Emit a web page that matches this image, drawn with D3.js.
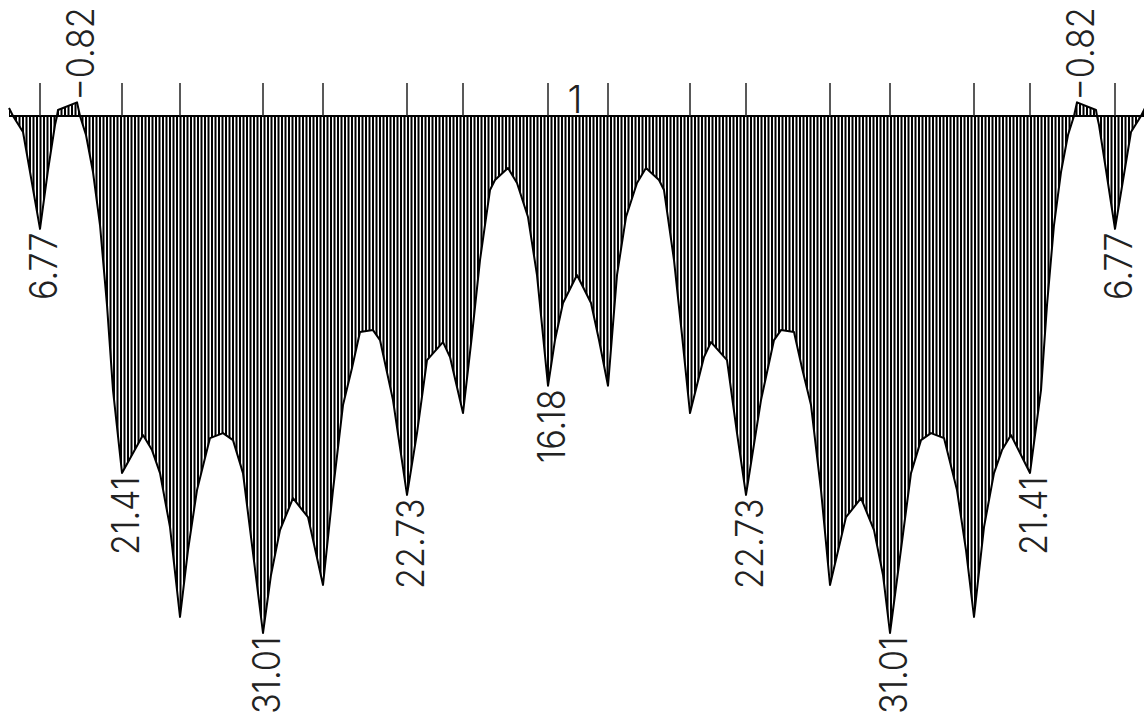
<!DOCTYPE html>
<html><head><meta charset="utf-8">
<script src="https://cdn.jsdelivr.net/npm/d3@7"></script>
<style>html,body{margin:0;padding:0;background:#fff;overflow:hidden}</style>
</head><body><svg id="chart" width="1144" height="724"></svg>
<script>
// distance along the beam (station) and diagram value
const stations = [0,4,14,31,39,46,48,49,68,71,77,84,91,98,104,113,134,143,151,161,171,179,188,201,214,224,234,254,262,271,284,291,299,314,324,334,343,351,364,371,384,398,408,418,434,441,454,463,471,481,486,499,508,519,528,539,546,554,568,
582,590,599,608,617,628,637,650,655,665,673,681,695,702,718,728,737,752,765,772,785,793,802,812,821,837,845,852,865,874,881,902,912,922,935,948,957,965,975,985,993,1002,1021,1032,1038,1045,1052,1059,1065,1068,1087,1088,1090,1097,1106,1122,1132,1136];
const values = [-0.48,0,0.96,6.77,3.24,0.54,0,-0.36,-0.82,0,1.14,3.36,6.54,11.34,16.44,21.41,19.14,20.04,21.42,24.66,30.05,26.04,22.44,19.32,19.02,19.44,21.42,31.01,27.53,24.84,22.92,23.46,24.06,28.13,22.44,17.34,15.12,12.96,12.84,13.44,17.04,22.73,19.02,14.64,13.56,14.46,17.82,13.14,8.64,4.44,3.84,3.12,4.02,6.06,9.54,16.18,13.44,11.22,9.54,
11.22,13.44,16.18,9.54,6.06,4.02,3.12,3.84,4.44,8.64,13.14,17.82,14.46,13.56,14.64,19.02,22.73,17.04,13.44,12.84,12.96,15.12,17.34,22.44,28.13,24.06,23.46,22.92,24.84,27.53,31.01,21.42,19.44,19.02,19.32,22.44,26.04,30.05,24.66,21.42,20.04,19.14,21.41,16.44,11.34,6.54,3.36,1.14,0,-0.82,-0.36,0,0.54,3.24,6.77,0.96,0,-0.48];
// support / node positions (tick marks above the axis)
const supports = [31,113,171,254,314,398,454,539,599,681,737,821,881,965,1021,1106];
// span number label
const spanLabels = ["1"];
const spanLabelStations = [566];
// stations whose value gets printed
const labelStations = [31,68,113,254,398,539,737,881,1021,1068,1106];

const svg = d3.select("#chart");
const x = d3.scaleLinear().domain([0,1136]).range([9,1145]);
const y = d3.scaleLinear().domain([0,31.01]).range([116,633]);
const pts = stations.map((s,i)=>({s, v: values[i]}));

const area = d3.area().x(d=>x(d.s)).y0(y(0)).y1(d=>y(d.v));
const line = d3.line().x(d=>x(d.s)).y(d=>y(d.v));

const defs = svg.append("defs");
defs.append("clipPath").attr("id","clipA").append("path").attr("d", area(pts));

// hatching
const hatchX = d3.range(x(0), x(1136), 3.5);
svg.append("g").attr("clip-path","url(#clipA)")
  .selectAll("line").data(hatchX).join("line")
  .attr("x1",d=>d).attr("x2",d=>d).attr("y1",80).attr("y2",660)
  .attr("stroke","#000").attr("stroke-width",2.0);

// outline
svg.append("path").attr("d", line(pts)).attr("fill","none")
  .attr("stroke","#000").attr("stroke-width",2).attr("stroke-linejoin","round");

// baseline
svg.append("line").attr("x1",x(0)).attr("x2",x(1136)).attr("y1",y(0)).attr("y2",y(0))
  .attr("stroke","#000").attr("stroke-width",1.8);

// support ticks
svg.append("g").selectAll("line").data(supports).join("line")
  .attr("x1",d=>x(d)).attr("x2",d=>x(d)).attr("y1",y(0)-33).attr("y2",y(0))
  .attr("stroke","#222").attr("stroke-width",1.5);

const fmt = d3.format(".2f");
const fontFam = "Inter, 'Liberation Sans Narrow', 'DejaVu Sans Condensed', sans-serif";

// value labels
svg.append("g").selectAll("text").data(labelStations).join("text")
  .each(function(s){
    const v = values[stations.indexOf(s)];
    const px = x(s), py = y(v);
    const t = d3.select(this);
    t.attr("transform", `translate(${px},${py}) rotate(-90) scale(0.9,1)`)
     .attr("y", 17)
     .attr("x", v < 0 ? 2 : -4)
     .attr("text-anchor", v < 0 ? "start" : "end")
     .text(fmt(v));
  })
  .attr("font-family", fontFam).attr("font-size", 38).attr("font-weight", 300)
  .attr("fill", "#222");

// span label
svg.append("g").selectAll("text").data(spanLabels).join("text")
  .attr("x",(d,i)=>x(spanLabelStations[i])).attr("y",y(0)-3)
  .attr("text-anchor","middle")
  .attr("font-family", fontFam).attr("font-size", 38).attr("font-weight", 300)
  .attr("fill","#222").text(d=>d);
</script></body></html>
